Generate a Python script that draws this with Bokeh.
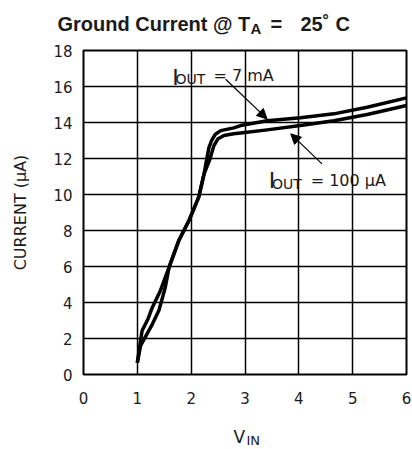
from bokeh.plotting import figure
from bokeh.layouts import column
from bokeh.models import Label, Arrow, NormalHead, FixedTicker
from bokeh.embed import file_html
from bokeh.resources import INLINE

# ---- data ----
vin_7ma = [1.0, 1.06, 1.09, 1.2, 1.28, 1.43, 1.59, 1.77, 1.96, 2.05, 2.14, 2.24, 2.29,
           2.33, 2.38, 2.45, 2.55, 2.79, 2.92, 3.41, 4.03, 4.65, 5.27, 6.0]
i_7ma = [0.65, 1.9, 2.44, 3.1, 3.74, 4.67, 5.96, 7.44, 8.56, 9.2, 9.85, 11.15, 11.98,
         12.6, 13.0, 13.35, 13.55, 13.7, 13.83, 14.1, 14.26, 14.48, 14.85, 15.37]

vin_100ua = [1.0, 1.06, 1.28, 1.40, 1.52, 1.59, 1.77, 1.96, 2.05, 2.14, 2.24, 2.35,
             2.42, 2.5, 2.61, 2.79, 2.92, 3.41, 4.03, 4.65, 5.27, 6.0]
i_100ua = [0.65, 1.6, 2.8, 3.55, 4.85, 5.96, 7.44, 8.56, 9.2, 9.85, 11.15, 11.98,
           12.7, 13.1, 13.28, 13.37, 13.42, 13.59, 13.83, 14.1, 14.44, 14.94]

x_ticks = [0, 1, 2, 3, 4, 5, 6]
y_ticks = [0, 2, 4, 6, 8, 10, 12, 14, 16, 18]

FONT = "DejaVu Sans"
TFONT = "Liberation Sans"
INK = "#1a1a1a"
W = 412


def add_label(fig, x, y, text, size, bold=False, font=FONT):
    fig.add_layout(Label(x=x, y=y, text=text, text_font=font, text_font_size=size,
                         text_font_style="bold" if bold else "normal",
                         text_color=INK, text_baseline="alphabetic", text_align="left"))


def text_strip(height):
    f = figure(width=W, height=height, x_range=(0, W), y_range=(0, height),
               x_axis_type=None, y_axis_type=None, output_backend="svg",
               toolbar_location=None, min_border=0, frame_align=False)
    f.outline_line_color = None
    f.grid.visible = False
    return f


# ---- title strip ----
t = text_strip(40)
add_label(t, 57, 17, "Ground Current @ T", "20px", bold=True, font=TFONT)
add_label(t, 250, 12, "A", "15px", bold=True, font=TFONT)
add_label(t, 270, 17, "=", "20px", bold=True, font=TFONT)
add_label(t, 300, 17, "25˚", "20px", bold=True, font=TFONT)
add_label(t, 335, 17, "C", "20px", bold=True, font=TFONT)

# ---- main plot ----
p = figure(width=W, height=368, x_range=(0, 6), y_range=(0, 18),
           output_backend="svg", toolbar_location=None,
           min_border_left=83, min_border_right=6, min_border_top=10, min_border_bottom=34)

p.outline_line_color = "black"
p.outline_line_width = 2
p.background_fill_color = "white"
p.border_fill_color = "white"

for ax in (p.xaxis[0], p.yaxis[0]):
    ax.axis_line_color = None
    ax.major_tick_line_color = None
    ax.minor_tick_line_color = None
    ax.major_tick_out = 0
    ax.major_tick_in = 0
    ax.minor_tick_out = 0
    ax.major_label_text_font = FONT
    ax.major_label_text_font_size = "15px"
    ax.major_label_text_color = INK

p.xaxis.ticker = FixedTicker(ticks=x_ticks)
p.yaxis.ticker = FixedTicker(ticks=y_ticks)
p.xaxis.major_label_standoff = 17
p.yaxis.major_label_standoff = 11

p.yaxis.axis_label = "CURRENT (µA)"
p.yaxis.axis_label_text_font = FONT
p.yaxis.axis_label_text_font_style = "normal"
p.yaxis.axis_label_text_font_size = "16px"
p.yaxis.axis_label_text_color = INK
p.yaxis.axis_label_standoff = 20

p.xgrid.ticker = FixedTicker(ticks=x_ticks)
p.ygrid.ticker = FixedTicker(ticks=y_ticks)
for g in (p.xgrid[0], p.ygrid[0]):
    g.grid_line_color = "black"
    g.grid_line_width = 1.5
    g.grid_line_alpha = 1.0

p.line(vin_7ma, i_7ma, line_color="black", line_width=3.5, line_join="round")
p.line(vin_100ua, i_100ua, line_color="black", line_width=3.5, line_join="round")

# series labels
add_label(p, 1.648, 16.5, "I", "22px")
add_label(p, 1.71, 16.39, "OUT", "14px")
add_label(p, 2.415, 16.61, "= 7 mA", "16px")

add_label(p, 3.44, 10.78, "I", "22px")
add_label(p, 3.5, 10.61, "OUT", "14px")
add_label(p, 4.22, 10.78, "= 100 µA", "16px")

# arrows
p.add_layout(Arrow(x_start=2.64, y_start=16.4, x_end=3.41, y_end=14.2,
                   line_color="black", line_width=1.2,
                   end=NormalHead(size=10, fill_color="black", line_color="black")))
p.add_layout(Arrow(x_start=4.43, y_start=11.7, x_end=3.85, y_end=13.37,
                   line_color="black", line_width=1.2,
                   end=NormalHead(size=10, fill_color="black", line_color="black")))

# ---- x-axis label strip ----
b = text_strip(41)
add_label(b, 233, 13, "V", "17px")
add_label(b, 246, 9, "IN", "13px")

layout = column(t, p, b, spacing=0)
open("out.html", "w").write(file_html(layout, INLINE))
